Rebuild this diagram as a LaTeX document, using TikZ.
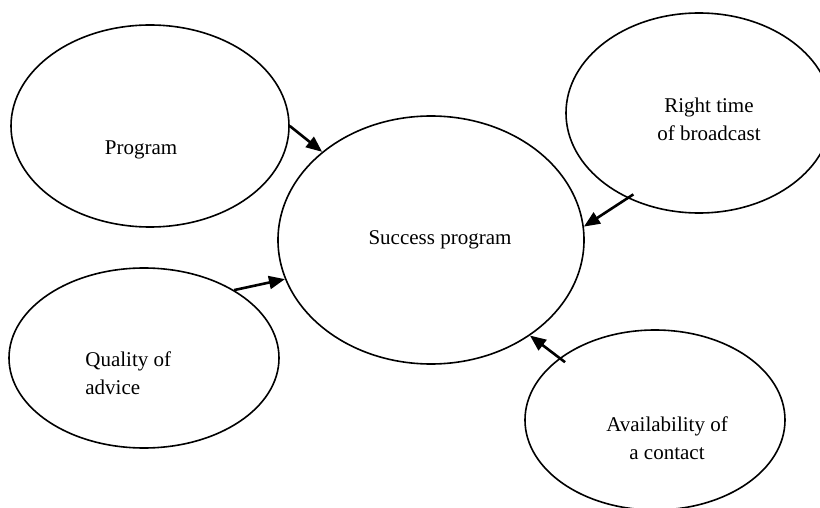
\documentclass[tikz,border=0pt]{standalone}
\usepackage{fontspec}
\setmainfont{Liberation Serif}
\usetikzlibrary{shapes.geometric}
\usetikzlibrary{arrows.meta}
\tikzset{bubble/.style={draw, ellipse, line width=0.8pt, inner sep=0pt}}
\tikzset{feeds/.style={-{Triangle[length=8pt, width=6.5pt]}, line width=1.3pt}}
\tikzset{txt/.style={font=\fontsize{10.5}{14}\selectfont, align=center}}

\begin{document}
\begin{tikzpicture}[x=0.5pt, y=-0.5pt]
      \useasboundingbox (0, 0) rectangle (820, 508);

      \node [bubble, minimum width=139pt, minimum height=101pt] (prog) at (150, 126) {};
      \node [bubble, minimum width=153pt, minimum height=124pt] (succ) at (431, 240) {};
      \node [bubble, minimum width=133pt, minimum height=100pt] (time) at (699, 113) {};
      \node [bubble, minimum width=135pt, minimum height=90pt] (qual) at (144, 358) {};
      \node [bubble, minimum width=130pt, minimum height=90pt] (avail) at (655, 420) {};

      \node [txt] (prog-txt) at (141, 150) {Program};
      \node [txt] (succ-txt) at (440, 240) {Success program};
      \node [txt] (time-txt) at (709, 119) {Right time\\of broadcast};
      \node [txt, align=left, anchor=west, inner sep=0pt] (qual-txt) at (85, 373) {Quality of\\advice};
      \node [txt] (avail-txt) at (667, 438) {Availability of\\a contact};

      \draw [feeds] (prog.east) -- (succ.141);
      \draw [feeds, shorten <=-3.5pt] (time.230) -- (succ.5);
      \draw [feeds] (qual.37) -- (succ.195);
      \draw [feeds, shorten <=-3.5pt] (avail.147) -- (succ.316);
\end{tikzpicture}
\end{document}
